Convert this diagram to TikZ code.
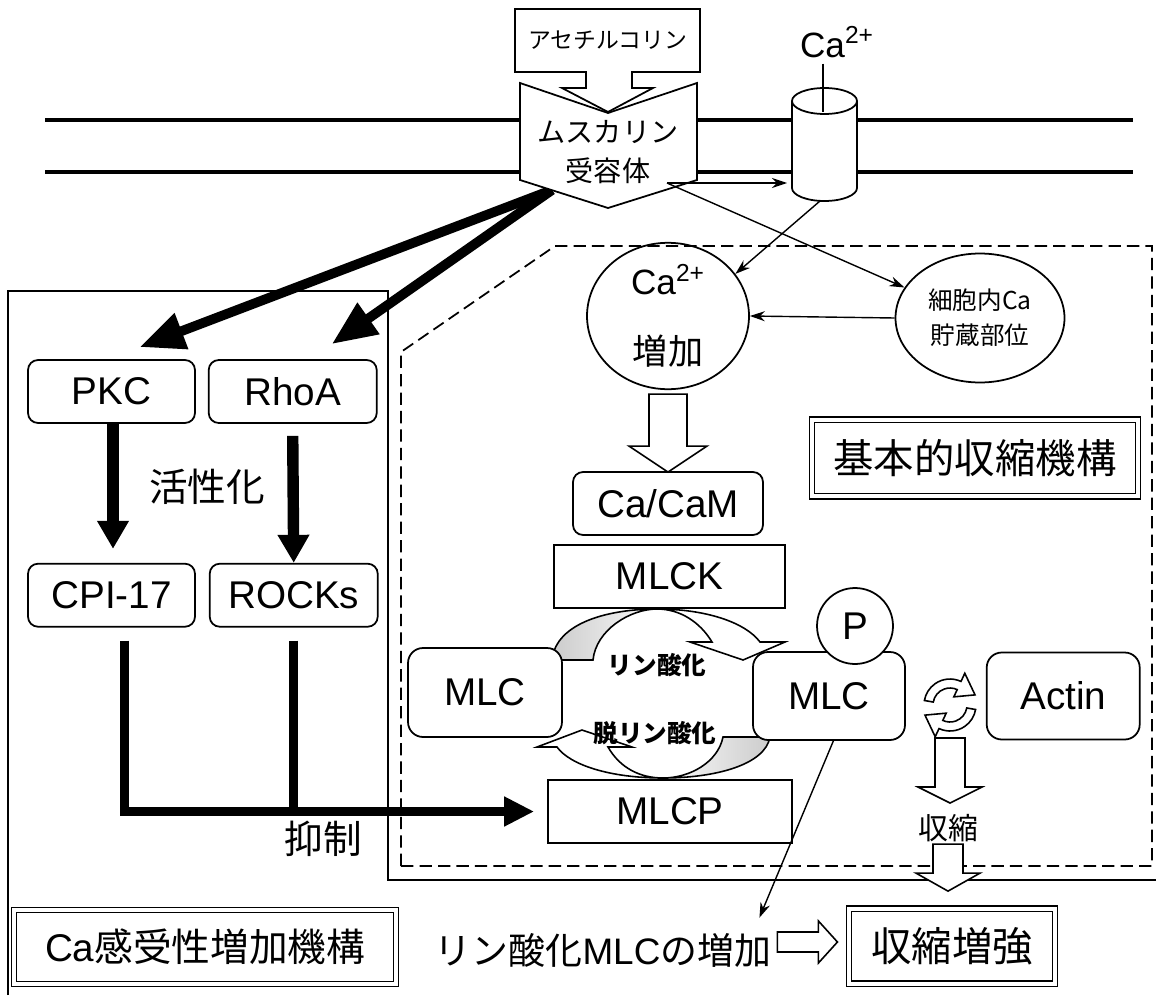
\documentclass[tikz,border=0pt]{standalone}
\usepackage{fontspec}
\setmainfont{Liberation Sans}
\newfontfamily\jp{Noto Sans CJK JP}
\usepackage{tikz}
\usetikzlibrary{shapes.geometric, arrows.meta, positioning, calc}
\tikzset{
    rbox/.style={
        rectangle,
        rounded corners=0.2cm,
        draw=black,
        fill=white,
        line width=1pt,
        minimum width=3.34cm,
        minimum height=1.26cm,
        inner sep=0pt,
        font=\fontsize{22}{26}\selectfont
    },
    sbox/.style={
        rectangle,
        draw=black,
        fill=white,
        line width=1pt,
        minimum height=1.27cm,
        inner sep=0pt,
        font=\fontsize{22}{26}\selectfont
    },
    dbox/.style={
        rectangle,
        draw=black,
        double,
        double distance=0.08cm,
        line width=0.8pt,
        inner sep=0pt,
        font=\fontsize{22}{26}\selectfont
    },
    oval/.style={
        ellipse,
        draw=black,
        line width=1pt,
        inner sep=0pt,
        align=center
    },
    txt/.style={
        draw=none,
        inner sep=0pt,
        align=center,
        font=\jp\fontsize{22}{26}\selectfont
    },
    arrow/.style={
        line width=0.8pt,
        -{Stealth[length=0.3cm, width=0.2cm]}
    },
    barrow/.style={
        line width=5.5pt,
        -{Triangle[length=0.9cm, width=0.72cm]}
    },
    darrow/.style={
        line width=6.5pt,
        -{Triangle[length=0.56cm, width=0.6cm]}
    },
    inhibit/.style={
        line width=5pt,
        -{Triangle[length=0.6cm, width=0.56cm]}
    },
    hollow/.style={
        draw=black,
        fill=white,
        line width=0.9pt,
        line join=miter
    },
    membrane/.style={
        line width=2.6pt
    },
}
\begin{document}
\begin{tikzpicture}[x=0.02cm, y=-0.02cm]
\useasboundingbox (0,0) rectangle (1156,997);

% Membrane
\draw[membrane] (45,120) -- (1133,120);
\draw[membrane] (45,172) -- (1133,172);

% Frames
\draw[line width=0.8pt] (8,995) -- (8,291) -- (388,291) -- (388,880) -- (1156,880);
\draw[line width=1pt, dash pattern=on 7pt off 3.5pt] (401,866) -- (401,352) -- (555,246) -- (1152,246) -- (1152,866) -- cycle;

% Left box nodes
\node[rbox] (pkc) at (111.5,391.5) {PKC};
\node[rbox, minimum width=3.36cm, right=0.24cm of pkc] (rhoa) {RhoA};
\node[rbox, below=2.78cm of pkc] (cpi) {CPI-17};
\node[rbox, minimum width=3.36cm, right=0.26cm of cpi] (rocks) {ROCKs};
\node[txt] (act) at (207,487) {活性化};
\node[txt] (inh) at (323,839) {抑制};

% Receptor arrows
\coordinate (mrbl) at (552,190);
\draw[barrow] (mrbl) -- ([xshift=0.56cm, yshift=0.24cm]pkc.north);
\draw[barrow] (mrbl) -- ([xshift=0.78cm, yshift=0.3cm]rhoa.north);

% Receptor
\draw[line width=1pt, fill=white] (520,83) -- (608,113) -- (697,83) -- (697,180) -- (608,208) -- (520,180) -- cycle;
\draw[line width=1pt, fill=white] (515,9) -- (700,9) -- (700,72) -- (632,72) -- (632,88) -- (653,88) -- (608,112) -- (562,88) -- (586,88) -- (586,72) -- (515,72) -- cycle;
\node[txt, font=\jp\fontsize{13}{16}\selectfont] (ach) at (608,40) {アセチルコリン};
\node[txt, font=\jp\fontsize{16}{22}\selectfont] (mr) at (608,152) {ムスカリン\\受容体};

% Channel
\draw[line width=1pt, fill=white] (792,101) -- (792,188) arc[start angle=180, end angle=0, x radius=32.5, y radius=13] -- (857,101);
\draw[line width=1pt, fill=white] (824.5,101) ellipse [x radius=32.5, y radius=13];
\node[txt, font=\fontsize{20}{24}\selectfont] (caion) at (837,42) {Ca\textsuperscript{2+}};
\coordinate (chtop) at (823,112);
\draw[line width=0.8pt, shorten <=0.12cm] (chtop |- caion.south) -- (chtop);

% Ca ellipses
\node[oval, minimum width=3.24cm, minimum height=2.6cm, font=\fontsize{20}{40}\selectfont] (caup) at (668,316) {Ca\textsuperscript{2+}\\{\jp 増加}};
\node[oval, minimum width=3.38cm, minimum height=2.58cm, font=\jp\fontsize{14}{20}\selectfont] (store) at (980,318) {細胞内Ca\\貯蔵部位};

% Thin arrows
\coordinate (mrr) at (667,183);
\coordinate (chl) at (787,183);
\coordinate (chb) at (820,201);
\draw[arrow] (mrr) -- (chl);
\draw[arrow] (mrr) -- (store.158);
\draw[arrow] (chb) -- (caup.32);
\draw[arrow] (store.west) -- (caup.east);

% Basic mechanism
\node[rbox, minimum width=3.8cm] (cacam) at (668,503.5) {Ca/CaM};
\node[sbox, minimum width=4.62cm, below=0.16cm of cacam, xshift=0.03cm] (mlck) {MLCK};
\node[sbox, minimum width=4.88cm, minimum height=1.26cm] (mlcp) at (670,811.5) {MLCP};
\draw[hollow] (caup.south) ++(-19,4) -- ++(0,52) -- ++(-20,0) -- ++(39,26) -- ++(39,-26) -- ++(-20,0) -- ++(0,-52) -- cycle;
\node[dbox, minimum width=6.52cm, minimum height=1.54cm, font=\jp\fontsize{23}{27}\selectfont] (basic) at (975,458) {基本的収縮機構};

% Phosphorylation cycle
\draw[hollow, left color=gray!40, right color=white, middle color=white] (552,660) .. controls (556,622) and (610,609) .. (657,609) .. controls (705,609) and (745,622) .. (760,642) -- (785,642) -- (743,660) -- (690,642) -- (712,642) .. controls (700,622) and (680,609) .. (657,609) .. controls (630,609) and (596,630) .. (593,660) -- cycle;
\draw[hollow, left color=white, right color=gray!40, middle color=white] (770,737) .. controls (765,765) and (715,778) .. (663,778) .. controls (610,778) and (570,765) .. (557,747) -- (537,747) -- (582,730) -- (632,747) -- (608,747) .. controls (620,768) and (640,778) .. (663,778) .. controls (690,778) and (718,762) .. (723,737) -- cycle;
\node[rbox, rounded corners=0.3cm, minimum width=3.08cm, minimum height=1.78cm] (mlcl) at (485,692.5) {MLC};
\node[rbox, rounded corners=0.3cm, minimum width=3.04cm, minimum height=1.76cm] (mlcr) at (829,696) {MLC};
\node[rbox, rounded corners=0.3cm, minimum width=3.06cm, minimum height=1.74cm, right=1.6cm of mlcr] (actin) {Actin};
\node[circle, draw=black, fill=white, line width=1pt, minimum size=1.52cm, inner sep=0pt, font=\fontsize{22}{26}\selectfont] (pgrp) at (855,626) {P};
\node[txt, font=\jp\bfseries\fontsize{14}{17}\selectfont] (phos) at (657,665) {リン酸化};
\node[txt, font=\jp\bfseries\fontsize{14}{17}\selectfont] (dephos) at (655,733) {脱リン酸化};

% MLC - Actin
\coordinate (cyc) at (950,705);
\draw[hollow, shift={(cyc)}] (190:17) arc[start angle=190, end angle=295, radius=17] -- (295:9) -- (338:27) -- (295:35) -- (295:26) arc[start angle=295, end angle=190, radius=26] -- cycle;
\draw[hollow, shift={(cyc)}] (10:17) arc[start angle=10, end angle=115, radius=17] -- (115:9) -- (158:27) -- (115:35) -- (115:26) arc[start angle=115, end angle=10, radius=26] -- cycle;
\draw[hollow] (cyc) ++(-15,33) -- ++(0,49) -- ++(-17,0) -- ++(32,16) -- ++(32,-16) -- ++(-17,0) -- ++(0,-49) -- cycle;
\node[txt, font=\jp\fontsize{17}{20}\selectfont] (shuku) at (948,828) {収縮};
\draw[hollow] (shuku.south) ++(-15,2) -- ++(0,29) -- ++(-17,0) -- ++(32,18) -- ++(32,-18) -- ++(-17,0) -- ++(0,-29) -- cycle;

% Inhibition
\draw[darrow] ([xshift=0.03cm]pkc.south) -- ([xshift=0.03cm, yshift=0.28cm]cpi.north);
\draw[darrow] ([yshift=-0.24cm]rhoa.south) -- (rocks.north);
\draw[inhibit] ([xshift=0.26cm, yshift=-0.26cm]cpi.south) |- ([xshift=-0.26cm]mlcp.west);
\draw[line width=5pt] ([yshift=-0.26cm]rocks.south) -- (rocks.south |- mlcp.west);

% Bottom row
\node[dbox, minimum width=7.64cm, minimum height=1.48cm] (casens) at (205,947) {Ca{\jp 感受性増加機構}};
\node[txt, font=\fontsize{21}{25}\selectfont] (pmlc) at (603,950) {{\jp リン酸化}MLC{\jp の増加}};
\node[dbox, minimum width=4.12cm, minimum height=1.5cm, font=\jp\fontsize{23}{27}\selectfont] (enh) at (952,946) {収縮増強};
\draw[hollow] (pmlc.east) ++(6,-18) -- ++(41,0) -- ++(0,-11) -- ++(19,21) -- ++(-19,21) -- ++(0,-11) -- ++(-41,0) -- cycle;
\draw[arrow] ([xshift=-1.45cm]mlcr.south east) -- ([xshift=-0.24cm, yshift=0.3cm]pmlc.north east);

\end{tikzpicture}
\end{document}
